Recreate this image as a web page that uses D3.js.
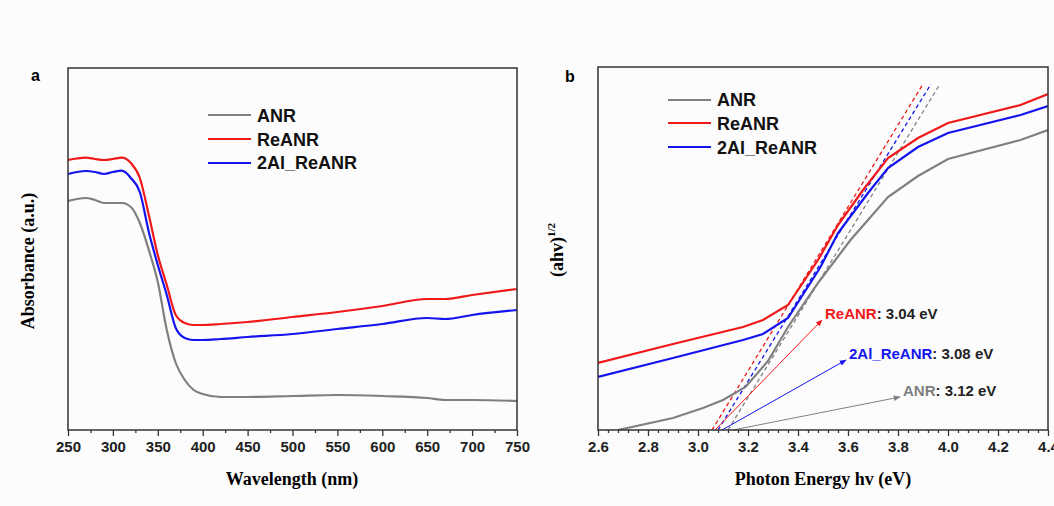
<!DOCTYPE html>
<html>
<head>
<meta charset="utf-8">
<script src="https://cdn.jsdelivr.net/npm/d3@7"></script>
<style>
  body { margin: 0; background: #fcfcfc; }
  svg { display: block; }
  .tick text { font-family: Arial, "Liberation Sans", sans-serif; font-weight: bold; font-size: 15px; fill: #222; }
  .tick line { stroke: #333; stroke-width: 1.3; }
</style>
</head>
<body>
<svg id="chart" width="1054" height="506"></svg>
<script>
// ---- panel a : absorbance spectra ----
var wavelength = [250,260,270,280,290,300,310,320,330,340,350,360,370,380,390,400,420,450,500,550,600,650,670,700,750];
var absANR     = [229,231,232,230,227,227,227,223,207,180,148,100, 67, 50, 40, 36, 33, 33, 34, 35, 34, 32, 30, 30, 29];
var absReANR   = [270,271.5,272.3,271,270,271,272.3,267,252,215,175,145,115,107,105,105,106,108,113,118,124,131,131,135,141];
var abs2Al     = [256,258,259,258,256,258,259.3,252,238,198,165,135,102, 92, 90, 90, 91, 93, 96,101,106,112,111,115,120];

// ---- panel b : Tauc plot ----
var eANR   = [2.68,2.9,3.02,3.1,3.19,3.28,3.36,3.48,3.61,3.76,3.88,4.0,4.29,4.4];
var tANR   = [0,   12, 22,  30, 43,  69,  103, 147, 190, 233, 254, 271,290, 300];
var eReANR = [2.6,2.9,3.18,3.26,3.36,3.48,3.56,3.66,3.76,3.88,4.0,4.29,4.4];
var tReANR = [67, 86, 103, 110, 125, 170, 205, 240, 272, 292, 307,325, 336];
var e2Al   = [2.6,2.9,3.18,3.26,3.36,3.49,3.56,3.68,3.76,3.88,4.0,4.29,4.4];
var t2Al   = [53, 72, 90,  96,  112, 163, 197, 237, 262, 283, 297,315, 324];

// tangent lines [x-intercept, top] and band gap arrows
var tangentANR   = [[3.12, 0], [3.968, 346]];
var tangentReANR = [[3.056, 0], [3.90, 346]];
var tangent2Al   = [[3.08, 0], [3.932, 346]];
var arrowANR   = [[3.14, 0], [3.808, 33]];
var arrowReANR = [[3.068, 0], [3.496, 110]];
var arrow2Al   = [[3.096, 0], [3.592, 70]];

var names  = ["ANR", "ReANR", "2Al_ReANR"];
var gaps   = ["3.12 eV", "3.04 eV", "3.08 eV"];
var colors = {"ANR": "#808080", "ReANR": "#f01818", "2Al_ReANR": "#1414ee"};

var svg = d3.select("#chart");
var defs = svg.append("defs");
names.forEach(function(n, i) {
  defs.append("marker").attr("id", "arr" + i)
    .attr("viewBox", "0 0 10 10").attr("refX", 9).attr("refY", 5)
    .attr("markerWidth", 7).attr("markerHeight", 7).attr("orient", "auto")
    .append("path").attr("d", "M0,1L10,5L0,9z").attr("fill", colors[n]);
});

var serif = "'Liberation Serif', 'Times New Roman', serif";
var sans = "Arial, 'Liberation Sans', sans-serif";

function frame(g, x0, x1, y0, y1) {
  g.append("rect").attr("x", x0).attr("y", y0).attr("width", x1 - x0).attr("height", y1 - y0)
    .attr("fill", "none").attr("stroke", "#333").attr("stroke-width", 1.5);
}

function legend(g, x, ys, yt) {
  names.forEach(function(n, i) {
    g.append("line").attr("x1", x).attr("x2", x + 43).attr("y1", ys[i]).attr("y2", ys[i])
      .attr("stroke", colors[n]).attr("stroke-width", 2.2);
    g.append("text").attr("x", x + 49).attr("y", yt[i]).text(n)
      .attr("font-family", sans).attr("font-weight", "bold").attr("font-size", 18).attr("fill", "#111");
  });
}

// ===== panel a =====
var xa = d3.scaleLinear().domain([250, 750]).range([68, 517]);
var ya = d3.scaleLinear().domain([0, 362]).range([430, 68]);
var ga = svg.append("g");

var minorA = d3.range(275, 750, 50);
ga.append("g").attr("transform", "translate(0,430)")
  .call(d3.axisBottom(xa).tickValues(minorA).tickSize(3).tickFormat(""))
  .call(function(s) { s.select(".domain").remove(); });
ga.append("g").attr("transform", "translate(0,430)")
  .call(d3.axisBottom(xa).tickValues(d3.range(250, 751, 50)).tickSize(6).tickPadding(5))
  .call(function(s) { s.select(".domain").remove(); });

var lineA = d3.line().curve(d3.curveMonotoneX).x(function(d) { return xa(d[0]); }).y(function(d) { return ya(d[1]); });
[[absANR, "ANR"], [absReANR, "ReANR"], [abs2Al, "2Al_ReANR"]].forEach(function(s) {
  ga.append("path").datum(d3.zip(wavelength, s[0])).attr("d", lineA)
    .attr("fill", "none").attr("stroke", colors[s[1]]).attr("stroke-width", 2.2);
});
frame(ga, 68, 517, 68, 430);
legend(ga, 208, [115, 139, 163], [122, 146, 169]);

ga.append("text").attr("x", 31).attr("y", 81).text("a")
  .attr("font-family", sans).attr("font-weight", "bold").attr("font-size", 16);
ga.append("text").attr("x", 292).attr("y", 485).attr("text-anchor", "middle").text("Wavelength (nm)")
  .attr("font-family", serif).attr("font-weight", "bold").attr("font-size", 18);
ga.append("text").attr("transform", "translate(34,261) rotate(-90)").attr("text-anchor", "middle")
  .text("Absorbance (a.u.)")
  .attr("font-family", serif).attr("font-weight", "bold").attr("font-size", 18);

// ===== panel b =====
var xb = d3.scaleLinear().domain([2.6, 4.4]).range([598, 1048]);
var yb = d3.scaleLinear().domain([0, 363]).range([430, 67]);
var gb = svg.append("g");

var minorB = d3.range(0, 46).map(function(i) { return 2.6 + i * 0.04; })
  .filter(function(v) { return Math.abs(v * 5 - Math.round(v * 5)) > 1e-6; });
gb.append("g").attr("transform", "translate(0,430)")
  .call(d3.axisBottom(xb).tickValues(minorB).tickSize(3).tickFormat(""))
  .call(function(s) { s.select(".domain").remove(); });
gb.append("g").attr("transform", "translate(0,430)")
  .call(d3.axisBottom(xb).tickValues(d3.range(0, 10).map(function(i) { return 2.6 + i * 0.2; }))
    .tickSize(6).tickPadding(5).tickFormat(d3.format(".1f")))
  .call(function(s) { s.select(".domain").remove(); });

var clip = defs.append("clipPath").attr("id", "clipB");
clip.append("rect").attr("x", 598).attr("y", 67).attr("width", 450).attr("height", 363);

var lineB = d3.line().x(function(d) { return xb(d[0]); }).y(function(d) { return yb(d[1]); });
var plotB = gb.append("g").attr("clip-path", "url(#clipB)");

[[tangentANR, "ANR"], [tangent2Al, "2Al_ReANR"], [tangentReANR, "ReANR"]].forEach(function(s) {
  plotB.append("path").datum(s[0]).attr("d", lineB)
    .attr("fill", "none").attr("stroke", colors[s[1]]).attr("stroke-width", 1.3)
    .attr("stroke-dasharray", "4,3");
});
[[d3.zip(eANR, tANR), "ANR"], [d3.zip(eReANR, tReANR), "ReANR"], [d3.zip(e2Al, t2Al), "2Al_ReANR"]].forEach(function(s) {
  plotB.append("path").datum(s[0]).attr("d", lineB)
    .attr("fill", "none").attr("stroke", colors[s[1]]).attr("stroke-width", 2.2);
});
[arrowANR, arrowReANR, arrow2Al].forEach(function(a, i) {
  gb.append("path").datum(a).attr("d", lineB)
    .attr("fill", "none").attr("stroke", colors[names[i]]).attr("stroke-width", 1)
    .attr("marker-end", "url(#arr" + i + ")");
  var end = a[1];
  var t = gb.append("text").attr("x", xb(end[0]) + 3).attr("y", yb(end[1]) - 1)
    .attr("font-family", sans).attr("font-weight", "bold").attr("font-size", 15);
  t.append("tspan").text(names[i]).attr("fill", colors[names[i]]);
  t.append("tspan").text(": " + gaps[i]).attr("fill", "#222");
});

frame(gb, 598, 1048, 67, 430);
legend(gb, 668, [100, 123, 147], [106, 130, 154]);

gb.append("text").attr("x", 565).attr("y", 82).text("b")
  .attr("font-family", sans).attr("font-weight", "bold").attr("font-size", 16);
gb.append("text").attr("x", 823).attr("y", 485).attr("text-anchor", "middle").text("Photon Energy hv (eV)")
  .attr("font-family", serif).attr("font-weight", "bold").attr("font-size", 18);
var yt = gb.append("text").attr("transform", "translate(563,250) rotate(-90)").attr("text-anchor", "middle")
  .attr("font-family", serif).attr("font-weight", "bold").attr("font-size", 18);
yt.append("tspan").text("(ahv)");
yt.append("tspan").text("1/2").attr("font-size", 11).attr("dy", -8);
</script>
</body>
</html>
